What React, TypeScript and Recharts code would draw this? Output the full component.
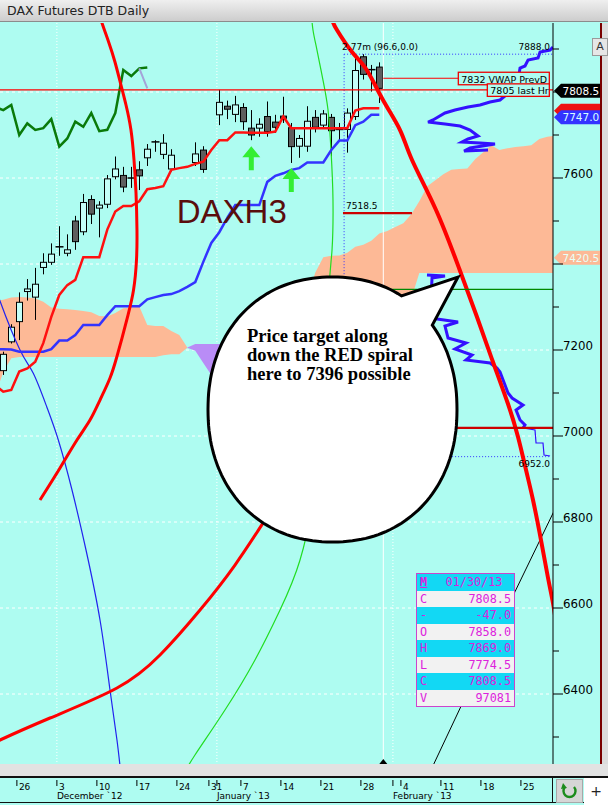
import React from 'react';
import {
  ComposedChart,
  XAxis,
  YAxis,
  CartesianGrid,
  Area,
  Bar,
  Line,
  Scatter,
  ReferenceLine,
  ReferenceDot,
} from 'recharts';

const W = 608;
const H = 805;
const PLOT_TOP = 23;
const PLOT_BOTTOM = 765;
const AXIS_X = 553;
const X_MIN = -0.41;
const X_MAX = 68.71;
const Y_MIN = 6234.9;
const Y_MAX = 7960.5;

const BG = '#aefcf1';
const SALMON = '#fdb996';
const PURPLE = '#b98cf6';
const BOX_CYAN = '#12d8f4';
const SANS = '"DejaVu Sans", sans-serif';
const MONO = '"DejaVu Sans Mono", monospace';

// daily bars, first entry is bar -1 (bar 47 = 30 Jan 2013)
const FIRST_BAR = -1;
const opens = [null, 7152, 7219, 7266, 7336, 7323, 7392, 7404, 7438, 7425, 7500, 7475, 7550, 7530, 7539, 7603, 7606, 7598, 7619, 7647, 7682, 7655, 7621, null, null, 7636, 7665, null, 7747, 7767, 7748, 7764, 7716, 7716, 7743, 7730, 7744, 7717, 7674, 7674, 7741, 7723, 7741, 7712, 7713, 7743, 7882, 7852, 7858];
const highs = [null, 7196, 7260, 7334, 7365, 7391, 7425, 7448, 7488, 7469, 7512, 7563, 7560, 7546, 7607, 7650, 7626, 7626, 7639, 7679, 7688, 7702, 7667, null, null, 7683, 7674, null, 7805, 7780, 7791, 7774, 7758, 7739, 7778, 7747, 7789, 7728, 7700, 7767, 7758, 7758, 7749, 7728, 7762, 7879, 7888, 7863, 7869];
const lows = [null, 7142, 7215, 7223, 7315, 7270, 7376, 7398, 7419, 7418, 7433, 7467, 7493, 7462, 7530, 7597, 7567, 7577, 7572, 7628, 7661, 7644, 7615, null, null, 7628, 7612, null, 7723, 7737, 7730, 7712, 7688, 7696, 7696, 7705, 7728, 7635, 7647, 7661, 7706, 7718, 7650, 7688, 7659, 7735, 7829, 7801, 7774.5];
const closes = [null, 7190, 7253, 7311, 7342, 7353, 7404, 7423, 7440, 7433, 7452, 7543, 7516, 7537, 7598, 7621, 7579, 7600, 7605, 7667, 7684, 7681, 7653, null, null, 7656, 7620, null, 7776, 7760, 7770, 7731, 7700, 7725, 7708, 7718, 7739, 7673, 7692, 7732, 7718, 7749, 7710, 7713, 7751, 7850, 7841, 7850, 7808.5];

const tenkan = [7118, 7103, 7107, 7150, 7157, 7173, 7216, 7277, 7328, 7351, 7363, 7416, 7416, 7416, 7480, 7522, 7535, 7535, 7546, 7574, 7577, 7581, 7619, 7623, 7626, 7633, 7638, 7665, 7688, 7688, 7706, 7706, 7705, 7705, 7705, 7708, 7743, 7716, 7716, 7716, 7716, 7716, 7716, 7716, 7716, 7757, 7762, 7762, 7762];
const kijun = [7202, 7202, 7201, 7196, 7196, 7196, 7196, 7202, 7222, 7222, 7235, 7258, 7258, 7258, 7281, 7302, 7302, 7302, 7302, 7318, 7323, 7328, 7330, 7337, 7347, 7358, 7405, 7449, 7474, 7507, 7537, 7537, 7537, 7537, 7591, 7605, 7611, 7619, 7623, 7636, 7636, 7636, 7665, 7687, 7687, 7723, 7731, 7747, 7747];
const chikou = [7765, 7758, 7770, 7700, 7727, 7712, 7716, 7737, 7673, 7692, 7731, 7719, 7751, 7709, 7712, 7751, 7851, 7837, 7855, 7857];

// cloud, bars -1 .. 69
const spanA = [
  7314, 7317, 7322, 7323, 7322, 7320, 7312, 7299, 7296, 7295,
  7293, 7291, 7288, 7279, 7278, 7286, 7297, 7299, 7301, 7258,
  7256, 7256, 7244, 7235, 7205, 7198, 7170, 7142, 7130, 7140,
  7160, 7180, 7200, 7220, 7240, 7260, 7280, 7300, 7310, 7320,
  7380, 7416, 7419, 7420, 7426, 7440, 7445, 7454, 7471, 7477,
  7486, 7495, 7516, 7546, 7581, 7595, 7609, 7619, 7621, 7622,
  7644, 7660, 7676, 7665, 7669, 7672, 7674, 7676, 7691, 7696,
  7698,
];
const spanB = [
  7095, 7149, 7181, 7184, 7184, 7184, 7184, 7184, 7184, 7184,
  7184, 7184, 7184, 7184, 7184, 7184, 7184, 7184, 7184, 7184,
  7184, 7188, 7190, 7190, 7206, 7214, 7214, 7214, 7214, 7216,
  7218, 7220, 7222, 7224, 7225, 7225, 7225, 7225, 7225, 7225,
  7250, 7250, 7250, 7250, 7250, 7250, 7250, 7250, 7250, 7250,
  7250, 7250, 7320, 7379, 7379, 7379, 7379, 7379, 7379, 7379,
  7379, 7379, 7379, 7379, 7379, 7379, 7379, 7379, 7379, 7379,
  7379,
];

const chikouLast = [{ j: 17, v: 7855 }, { j: 18, v: 7808.5 }];

// spiral arcs and fan line as (bar, price)
const redArcRight = [
  { j: 40.71, v: 7986 }, { j: 41.21, v: 7962.8 }, { j: 41.71, v: 7944.2 }, { j: 43.59, v: 7893 },
  { j: 45.43, v: 7851.2 }, { j: 47.46, v: 7781.4 }, { j: 49.59, v: 7711.6 }, { j: 51.09, v: 7641.9 },
  { j: 54.09, v: 7525.6 }, { j: 56.96, v: 7390.7 }, { j: 59.21, v: 7276.7 }, { j: 61.21, v: 7172.1 },
  { j: 63.09, v: 7074.4 }, { j: 64.34, v: 6997.7 }, { j: 65.34, v: 6920.9 }, { j: 66.21, v: 6851.2 },
  { j: 67.21, v: 6758.1 }, { j: 68.09, v: 6669.8 }, { j: 68.71, v: 6611.6 }, { j: 69.21, v: 6553.5 },
];
const redArcLeft = [
  { j: 11.84, v: 7990.7 }, { j: 12.34, v: 7960.5 }, { j: 13.21, v: 7914 }, { j: 13.96, v: 7869.8 },
  { j: 14.71, v: 7816.3 }, { j: 15.34, v: 7769.8 }, { j: 15.96, v: 7711.6 }, { j: 16.34, v: 7641.9 },
  { j: 16.59, v: 7565.1 }, { j: 16.71, v: 7479.1 }, { j: 16.65, v: 7409.3 }, { j: 16.28, v: 7339.5 },
  { j: 15.59, v: 7281.4 }, { j: 14.84, v: 7227.9 }, { j: 14.15, v: 7181.4 }, { j: 13.34, v: 7134.9 },
  { j: 12.09, v: 7083.7 }, { j: 10.84, v: 7037.2 }, { j: 9.21, v: 6990.7 }, { j: 7.09, v: 6925.6 },
  { j: 4.59, v: 6851.2 },
];
const redArcLow = [
  { j: -1.66, v: 6281.4 }, { j: -0.41, v: 6293 }, { j: 5.84, v: 6344.2 }, { j: 14.21, v: 6414 },
  { j: 19.59, v: 6490.7 }, { j: 24.59, v: 6595.3 }, { j: 28.96, v: 6700 }, { j: 32.71, v: 6804.7 },
  { j: 35.84, v: 6897.7 }, { j: 38.34, v: 6990.7 }, { j: 39.84, v: 7083.7 },
];
const blueArc = [
  { j: -1.66, v: 7386 }, { j: -0.41, v: 7314 }, { j: 2.09, v: 7200 }, { j: 3.75, v: 7145.8 },
  { j: 5.43, v: 7068.1 }, { j: 6.88, v: 6990.7 }, { j: 8.59, v: 6874.4 }, { j: 10.34, v: 6734.9 },
  { j: 12.09, v: 6572.1 }, { j: 13.34, v: 6409.3 }, { j: 14.21, v: 6293 }, { j: 14.71, v: 6211.6 },
];
const greenArc = [
  { j: 38.46, v: 7990.7 }, { j: 38.71, v: 7944.2 }, { j: 39.21, v: 7897.7 }, { j: 39.96, v: 7827.9 },
  { j: 40.59, v: 7758.1 }, { j: 40.96, v: 7665.1 }, { j: 41.21, v: 7548.8 }, { j: 41.09, v: 7432.6 },
  { j: 40.71, v: 7339.5 }, { j: 40.09, v: 7083.7 }, { j: 38.96, v: 6874.4 }, { j: 37.09, v: 6711.6 },
  { j: 34.59, v: 6595.3 }, { j: 31.46, v: 6479.1 }, { j: 27.71, v: 6362.8 }, { j: 23.96, v: 6258.1 },
  { j: 22.71, v: 6218.6 },
];
const blackFan = [
  { j: 70.21, v: 6883.7 }, { j: 68.8, v: 6823.9 }, { j: 63.96, v: 6637.9 }, { j: 53.46, v: 6223.3 },
];

// volume-at-price profile outline
const profileHigh = [
  { j: 68.71, v: 7904.7 }, { j: 68.34, v: 7897.7 }, { j: 67.09, v: 7893 }, { j: 66.84, v: 7879 },
  { j: 65.59, v: 7874.4 }, { j: 65.21, v: 7860.5 }, { j: 64.59, v: 7855.8 }, { j: 64.34, v: 7827.9 },
  { j: 63.84, v: 7804.7 }, { j: 62.84, v: 7793 }, { j: 62.09, v: 7781.4 }, { j: 60.84, v: 7776.7 },
  { j: 59.59, v: 7769.8 }, { j: 58.09, v: 7765.1 }, { j: 56.46, v: 7758.1 }, { j: 55.21, v: 7751.2 },
  { j: 53.71, v: 7734.9 }, { j: 53.09, v: 7730.2 }, { j: 55.21, v: 7725.6 }, { j: 57.09, v: 7720.9 },
  { j: 58.34, v: 7711.6 }, { j: 59.34, v: 7697.7 }, { j: 58.09, v: 7690.7 }, { j: 57.34, v: 7683.7 },
  { j: 59.59, v: 7681.4 }, { j: 61.46, v: 7679.1 }, { j: 58.34, v: 7669.8 }, { j: 57.59, v: 7662.8 },
  { j: 60.59, v: 7665.1 },
];
const profileLow = [
  { j: 52.96, v: 7374.4 }, { j: 55.21, v: 7372.1 }, { j: 53.59, v: 7367.4 }, { j: 53.34, v: 7274.4 },
  { j: 56.84, v: 7265.1 }, { j: 55.21, v: 7255.8 }, { j: 55.59, v: 7227.9 }, { j: 57.84, v: 7216.3 },
  { j: 56.46, v: 7202.3 }, { j: 58.59, v: 7188.4 }, { j: 57.84, v: 7176.7 }, { j: 60.84, v: 7169.8 },
  { j: 61.71, v: 7158.1 }, { j: 62.09, v: 7148.8 }, { j: 62.71, v: 7118.6 }, { j: 63.09, v: 7100 },
  { j: 63.59, v: 7088.4 }, { j: 64.96, v: 7072.1 }, { j: 64.09, v: 7060.5 }, { j: 64.59, v: 7037.2 },
  { j: 65.21, v: 7025.6 }, { j: 64.96, v: 7018.6 },
];
const profileTail = [
  { j: 64.96, v: 7018.6 }, { j: 66.46, v: 7014 }, { j: 66.59, v: 6983.7 }, { j: 67.46, v: 6983.7 },
  { j: 67.59, v: 6955.8 }, { j: 68.34, v: 6953.5 },
];

const arrowMarks = [{ j: 31, v: 7674 }, { j: 36, v: 7623 }];

// axis labels
const tickBars = [2, 7, 12, 17, 22, 26, 27, 30, 35, 40, 45, 49, 50, 55, 60, 65];
const tickDays = ['26', '3', '10', '17', '24', '31', '', '7', '14', '21', '28', '', '4', '11', '18', '25'];
const monthBars = [7, 27, 49];
const monthNames = ['December `12', 'January `13', 'February `13'];
const priceTicks = [6300, 6400, 6500, 6600, 6700, 6800, 6900, 7000, 7100, 7200, 7300, 7400, 7500, 7600, 7700, 7800, 7900];
// 7400 and 7800 sit under the price tags in the picture
const labelledPrices = [6400, 6600, 6800, 7000, 7200, 7600];
const majorPrices = [6400, 6600, 6800, 7000, 7200, 7400, 7600, 7800];
const gridPrices = [6400, 6600, 6800, 7000, 7200, 7400, 7600, 7800];

const boxLabels = ['C', '-', 'O', 'H', 'L', 'C', 'V'];
const boxValues = ['7808.5', '-47.0', '7858.0', '7869.0', '7774.5', '7808.5', '97081'];

const rows = spanA.map((a, k) => {
  const b = spanB[k];
  const up = a >= b;
  const prevUp = k > 0 ? spanA[k - 1] >= spanB[k - 1] : up;
  const band = [Math.min(a, b), Math.max(a, b)];
  const o = opens[k] ?? null;
  return {
    j: FIRST_BAR + k,
    salmon: up || prevUp ? band : null,
    purple: !up || !prevUp ? band : null,
    o,
    h: highs[k] ?? null,
    l: lows[k] ?? null,
    c: closes[k] ?? null,
    range: o == null ? null : [lows[k], highs[k]],
    tenkan: tenkan[k] ?? null,
    kijun: kijun[k] ?? null,
    chikou: chikou[k] ?? null,
  };
});

function Candle(props: any) {
  const { x, y, width, height, payload } = props;
  if (!payload || payload.o == null) return null;
  const { o, h, l, c } = payload;
  const top = Math.min(y, y + height);
  const hgt = Math.abs(height);
  const span = h - l || 1;
  const py = (v: number) => top + ((h - v) / span) * hgt;
  const cx = Math.round(x + width / 2) + 0.5;
  const b1 = py(Math.max(o, c));
  const b2 = py(Math.min(o, c));
  const upBar = c > o;
  return (
    <g>
      <line x1={cx} x2={cx} y1={top} y2={top + hgt} stroke="#000" strokeWidth={1} />
      {Math.abs(b2 - b1) < 1.5 ? (
        <line x1={cx - 4} x2={cx + 4} y1={b1} y2={b1} stroke="#000" strokeWidth={1.5} />
      ) : (
        <rect x={cx - 3} y={b1} width={6} height={b2 - b1} fill={upBar ? '#c4fff8' : '#5e5e5e'} stroke="#000" strokeWidth={1} />
      )}
    </g>
  );
}

function DateTick(props: any) {
  const { x, payload } = props;
  const bar = Math.round(payload.value + 0.3);
  const day = tickDays[tickBars.indexOf(bar)];
  const m = monthBars.indexOf(bar);
  return (
    <g>
      <line x1={x} x2={x} y1={780} y2={786} stroke="#000" />
      {day ? (
        <text x={x + 2} y={789.5} fontSize={9} fontFamily={SANS} fill="#000">{day}</text>
      ) : null}
      {m >= 0 ? (
        <text x={x} y={798.5} fontSize={9} fontFamily={SANS} fill="#000">{monthNames[m]}</text>
      ) : null}
    </g>
  );
}

function PriceTick(props: any) {
  const { y, payload } = props;
  const major = majorPrices.includes(payload.value);
  const labelled = labelledPrices.includes(payload.value);
  return (
    <g>
      <line x1={AXIS_X} x2={AXIS_X + (major ? 10 : 6)} y1={y} y2={y} stroke="#000" />
      {labelled ? (
        <text x={AXIS_X + 10} y={y} fontSize={11.8} fontFamily={SANS} fill="#000">{payload.value}</text>
      ) : null}
    </g>
  );
}

function PriceTag({ cx, cy, fill, color, text }: any) {
  const y = cy + 2.5;
  return (
    <g>
      <polygon points={`${cx + 1},${y} ${cx + 8},${y - 7} ${cx + 48},${y - 7} ${cx + 48},${y + 7} ${cx + 8},${y + 7}`} fill={fill} />
      {text ? (
        <text x={cx + 9.5} y={y + 4} fill={color} fontSize={10.5} fontFamily={SANS}>{text}</text>
      ) : null}
    </g>
  );
}

function LabelBox({ cx, cy, w, text }: any) {
  return (
    <g>
      <rect x={cx} y={cy - 6} width={w} height={12.5} fill={BG} stroke="#ee0000" strokeWidth={1.3} />
      <text x={cx + 3} y={cy + 4.3} fontSize={9.5} fontFamily={SANS} fill="#000">{text}</text>
    </g>
  );
}

function UpArrow({ cx, cy }: any) {
  return (
    <path
      d={`M${cx},${cy} L${cx + 9},${cy + 11} L${cx + 2.5},${cy + 11} L${cx + 2.5},${cy + 24} L${cx - 2.5},${cy + 24} L${cx - 2.5},${cy + 11} L${cx - 9},${cy + 11} Z`}
      fill="#33ee33"
    />
  );
}

function Bubble({ cx, cy }: any) {
  const rx = 124.5;
  const ry = 132.5;
  const p = 2 / 2.15;
  const pts: string[] = [];
  for (let d = -38; d <= 302; d += 2) {
    const t = (d * Math.PI) / 180;
    const c = Math.cos(t);
    const s = Math.sin(t);
    const x = cx + rx * Math.sign(c) * Math.pow(Math.abs(c), p);
    const y = cy + ry * Math.sign(s) * Math.pow(Math.abs(s), p);
    pts.push(`${x.toFixed(1)},${y.toFixed(1)}`);
  }
  pts.push(`${cx + 125.5},${cy - 132.5}`);
  const font = { fontSize: 18.5, fontFamily: '"Liberation Serif", serif', fontWeight: 700, fill: '#000' };
  return (
    <g>
      <path d={`M${pts.join(' L')} Z`} fill="#fff" stroke="#000" strokeWidth={3} strokeLinejoin="miter" />
      <text x={cx - 85.5} y={cy - 67.5} {...font}>Price target along</text>
      <text x={cx - 85.5} y={cy - 48.5} {...font}>down the RED spiral</text>
      <text x={cx - 85.5} y={cy - 29.5} {...font}>here to 7396 possible</text>
    </g>
  );
}

function SmallText({ cx, cy, dx, dy, anchor, text }: any) {
  return (
    <text x={cx + dx} y={cy + dy} textAnchor={anchor || 'start'} fontSize={9} fontFamily={SANS} fill="#000">
      {text}
    </text>
  );
}

export default function App() {
  return (
    <div style={{ position: 'fixed', left: 0, top: 0, width: W, height: H, background: BG, overflow: 'hidden' }}>
      <ComposedChart
        width={W}
        height={H}
        data={rows}
        margin={{ top: PLOT_TOP, right: 0, bottom: 0, left: 0 }}
      >
        <CartesianGrid vertical={false} horizontalValues={gridPrices} stroke="#ffffff" strokeDasharray="3 3" />
        <CartesianGrid horizontal={false} verticalValues={monthBars.map((b) => b - 0.3)} stroke="#ffffff" strokeDasharray="1 2" />
        <XAxis
          type="number"
          dataKey="j"
          domain={[X_MIN, X_MAX]}
          allowDataOverflow
          ticks={tickBars.map((b) => b - 0.3)}
          interval={0}
          tickLine={false}
          axisLine={false}
          height={H - PLOT_BOTTOM}
          tick={(p: any) => <DateTick {...p} />}
        />
        <YAxis
          orientation="right"
          type="number"
          domain={[Y_MIN, Y_MAX]}
          allowDataOverflow
          ticks={priceTicks}
          interval={0}
          tickLine={false}
          axisLine={{ stroke: '#000' }}
          width={W - AXIS_X}
          tick={(p: any) => <PriceTick {...p} />}
        />

        <ReferenceLine x={47.5} stroke="#ffffff" strokeWidth={1} />
        <ReferenceLine segment={[{ x: 42.6, y: 7888 }, { x: X_MAX, y: 7888 }]} stroke="#3333ff" strokeDasharray="1 2" />
        <ReferenceLine segment={[{ x: 42.6, y: 7888 }, { x: 42.6, y: 6952 }]} stroke="#3333ff" strokeDasharray="1 2" />
        <ReferenceLine segment={[{ x: 42.6, y: 6952 }, { x: 68.2, y: 6952 }]} stroke="#3333ff" strokeDasharray="1 2" />

        <Area dataKey="salmon" type="linear" fill={SALMON} fillOpacity={1} stroke="none" isAnimationActive={false} />
        <Area dataKey="purple" type="linear" fill={PURPLE} fillOpacity={1} stroke="none" isAnimationActive={false} />

        <Line data={profileHigh} dataKey="v" type="linear" stroke="#3311ff" strokeWidth={3} dot={false} isAnimationActive={false} />
        <Line data={profileLow} dataKey="v" type="linear" stroke="#3311ff" strokeWidth={3} dot={false} isAnimationActive={false} />
        <Line data={profileTail} dataKey="v" type="linear" stroke="#3311ff" strokeWidth={1.2} dot={false} isAnimationActive={false} />

        <Line dataKey="chikou" type="linear" stroke="#0a7a0a" strokeWidth={2.5} dot={false} isAnimationActive={false} />
        <Line data={chikouLast} dataKey="v" type="linear" stroke="#a4a4d8" strokeWidth={2} dot={false} isAnimationActive={false} />

        <Line data={blueArc} dataKey="v" type="natural" stroke="#2222ee" strokeWidth={1.2} dot={false} isAnimationActive={false} />
        <Line data={greenArc} dataKey="v" type="natural" stroke="#22dd22" strokeWidth={1.2} dot={false} isAnimationActive={false} />
        <Line data={blackFan} dataKey="v" type="linear" stroke="#000" strokeWidth={1} dot={false} isAnimationActive={false} />

        <Bar dataKey="range" barSize={6} shape={(p: any) => <Candle {...p} />} isAnimationActive={false} />

        <Line dataKey="kijun" type="linear" stroke="#3333ff" strokeWidth={2.5} dot={false} isAnimationActive={false} />
        <Line dataKey="tenkan" type="linear" stroke="#ff1010" strokeWidth={2.5} dot={false} isAnimationActive={false} />

        <Line data={redArcLeft} dataKey="v" type="natural" stroke="#ff0000" strokeWidth={3} dot={false} isAnimationActive={false} />
        <Line data={redArcLow} dataKey="v" type="natural" stroke="#ff0000" strokeWidth={3} dot={false} isAnimationActive={false} />
        <Line data={redArcRight} dataKey="v" type="natural" stroke="#ff0000" strokeWidth={4} dot={false} isAnimationActive={false} />

        <ReferenceLine y={7805} stroke="#ff0000" strokeWidth={1.3} />
        <ReferenceLine segment={[{ x: 47.5, y: 7832 }, { x: 56.9, y: 7832 }]} stroke="#ff0000" strokeWidth={1.2} />
        <ReferenceLine segment={[{ x: 42.46, y: 7518.5 }, { x: 51.09, y: 7518.5 }]} stroke="#cc0000" strokeWidth={2.2} />
        <ReferenceLine segment={[{ x: 46, y: 7019 }, { x: X_MAX, y: 7019 }]} stroke="#cc0000" strokeWidth={2.2} />
        <ReferenceLine segment={[{ x: 44, y: 7341 }, { x: X_MAX, y: 7341 }]} stroke="#008800" strokeWidth={1.2} />

        <Scatter data={arrowMarks} dataKey="v" shape={(p: any) => <UpArrow cx={p.cx} cy={p.cy} />} isAnimationActive={false} />

        <ReferenceDot x={42.46} y={7518.5} r={0} ifOverflow="visible" shape={(p: any) => <SmallText cx={p.cx} cy={p.cy} dx={3} dy={-4} text="7518.5" />} />
        <ReferenceDot x={42.6} y={7888} r={0} ifOverflow="visible" shape={(p: any) => <SmallText cx={p.cx} cy={p.cy} dx={-2} dy={-4} text="2.77m (96.6,0.0)" />} />
        <ReferenceDot x={X_MAX} y={7888} r={0} ifOverflow="visible" shape={(p: any) => <SmallText cx={p.cx} cy={p.cy} dx={-3} dy={-4} anchor="end" text="7888.0" />} />
        <ReferenceDot x={X_MAX} y={6952} r={0} ifOverflow="visible" shape={(p: any) => <SmallText cx={p.cx} cy={p.cy} dx={-3} dy={10.5} anchor="end" text="6952.0" />} />

        <ReferenceDot
          x={21.68}
          y={7495.3}
          r={0}
          ifOverflow="visible"
          shape={(p: any) => (
            <text x={p.cx} y={p.cy} fontSize={33} fontFamily='"Liberation Sans", sans-serif' fill="#5a0d0d">DAXH3</text>
          )}
        />

        <ReferenceDot x={56.875} y={7832} r={0} ifOverflow="visible" shape={(p: any) => <LabelBox cx={p.cx} cy={p.cy} w={91} text="7832 VWAP PrevD" />} />
        <ReferenceDot x={60.5} y={7805} r={0} ifOverflow="visible" shape={(p: any) => <LabelBox cx={p.cx} cy={p.cy} w={62} text="7805 last Hr" />} />

        <ReferenceDot x={41.15} y={7061.6} r={0} ifOverflow="visible" shape={(p: any) => <Bubble cx={p.cx} cy={p.cy} />} />

        <ReferenceDot
          x={47.5}
          y={Y_MIN}
          r={0}
          ifOverflow="visible"
          shape={(p: any) => <polygon points={`${p.cx - 4},${p.cy - 1} ${p.cx + 4},${p.cy - 1} ${p.cx},${p.cy - 6}`} fill="#000" />}
        />

        <ReferenceDot x={X_MAX} y={7420.5} r={0} ifOverflow="visible" shape={(p: any) => <PriceTag cx={p.cx} cy={p.cy} fill={SALMON} color="#e8fff6" text="7420.5" />} />
        <ReferenceDot x={X_MAX} y={7762.5} r={0} ifOverflow="visible" shape={(p: any) => <PriceTag cx={p.cx} cy={p.cy} fill="#ee1111" color="#ffe8e8" text="" />} />
        <ReferenceDot x={X_MAX} y={7747} r={0} ifOverflow="visible" shape={(p: any) => <PriceTag cx={p.cx} cy={p.cy} fill="#3333ff" color="#d8ffff" text="7747.0" />} />
        <ReferenceDot x={X_MAX} y={7808.5} r={0} ifOverflow="visible" shape={(p: any) => <PriceTag cx={p.cx} cy={p.cy} fill="#000" color="#fff" text="7808.5" />} />
      </ComposedChart>

      {/* window chrome */}
      <div
        style={{
          position: 'absolute', left: 0, top: 0, width: W, height: 22,
          background: 'linear-gradient(#efefef, #cdcdcd)', borderBottom: '1px solid #8c8c8c',
          fontFamily: SANS, fontSize: 12.5, color: '#222', lineHeight: '22px', paddingLeft: 7, boxSizing: 'border-box',
        }}
      >
        DAX Futures DTB Daily
      </div>
      <div style={{ position: 'absolute', left: 600, top: 23, width: 1.5, height: PLOT_BOTTOM - 23, background: '#7a0000' }} />
      <div style={{ position: 'absolute', left: 602, top: 23, width: 6, height: PLOT_BOTTOM - 23, background: '#dcdcdc' }} />
      <div
        style={{
          position: 'absolute', left: 592, top: 38, width: 14, height: 16, background: '#e6e6e6',
          border: '1px solid #9a9a9a', fontFamily: SANS, fontSize: 11, textAlign: 'center', lineHeight: '16px', color: '#333',
        }}
      >
        A
      </div>
      <div style={{ position: 'absolute', left: 0, top: 764, width: W, height: 12, background: '#e2e2e2' }} />
      <div style={{ position: 'absolute', left: 0, top: 776, width: W, height: 2, background: '#111' }} />
      <div style={{ position: 'absolute', left: 0, top: 802, width: W, height: 1, background: '#111' }} />
      <div style={{ position: 'absolute', left: 552, top: 778, width: 1, height: 24, background: '#111' }} />
      <div
        style={{
          position: 'absolute', left: 556, top: 779, width: 27, height: 24, background: '#d6d6d6',
          border: '1px solid #a8a8a8', boxSizing: 'border-box',
        }}
      >
        <svg width={25} height={22} style={{ position: 'absolute', left: 0, top: 0 }}>
          <path d="M8 7 A6 6 0 1 0 17 7" fill="none" stroke="#1c8c1c" strokeWidth={2.4} />
          <path d="M6 3 L10 8 L4 9 Z" fill="#1c8c1c" />
        </svg>
      </div>
      <div
        style={{
          position: 'absolute', left: 584, top: 778, width: 24, height: 27, background: '#fff',
          fontFamily: SANS, fontSize: 14, textAlign: 'center', lineHeight: '26px', color: '#222',
        }}
      >
        +
      </div>

      {/* OHLC data window */}
      <div
        style={{
          position: 'absolute', left: 416, top: 573, width: 99, border: '1px solid #cc44cc',
          fontFamily: MONO, fontSize: 11.8, color: '#dd22dd', boxSizing: 'border-box',
        }}
      >
        <div style={{ height: 16.5, lineHeight: '16.5px', background: BOX_CYAN, display: 'flex' }}>
          <span style={{ width: 14, paddingLeft: 3, fontWeight: 700, textDecoration: 'underline' }}>M</span>
          <span style={{ flex: 1, textAlign: 'center' }}>01/30/13</span>
        </div>
        {boxLabels.map((lab, i) => (
          <div
            key={i}
            style={{
              height: 16.5, lineHeight: '16.5px', background: i % 2 === 0 ? '#f2f2f2' : BOX_CYAN,
              display: 'flex', justifyContent: 'space-between', padding: '0 3px',
            }}
          >
            <span>{lab}</span>
            <span>{boxValues[i]}</span>
          </div>
        ))}
      </div>
    </div>
  );
}
